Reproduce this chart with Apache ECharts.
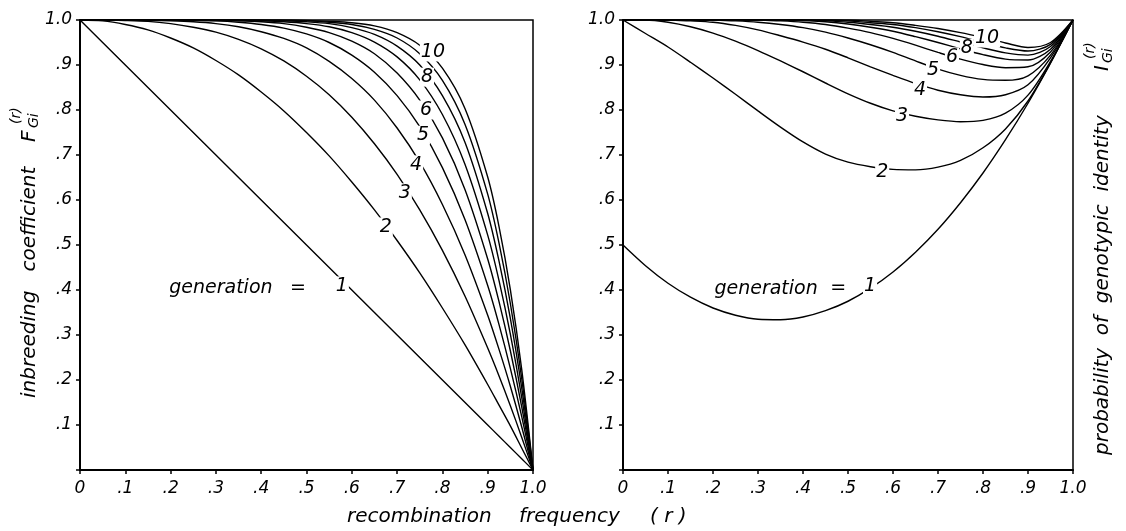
<!DOCTYPE html>
<html>
<head>
<meta charset="utf-8">
<script src="https://cdn.jsdelivr.net/npm/echarts@6/dist/echarts.min.js"></script>
<style>
  html, body { margin: 0; padding: 0; background: #fff; }
  #chart { width: 1126px; height: 531px; }
</style>
</head>
<body>
<div id="chart"></div>
<script>
// tick labels
const xTickLabels = ['0', '.1', '.2', '.3', '.4', '.5', '.6', '.7', '.8', '.9', '1.0'];
const yTickLabels = ['', '.1', '.2', '.3', '.4', '.5', '.6', '.7', '.8', '.9', '1.0'];

// left panel: inbreeding coefficient F
const rLeft = [0, .05, .1, .15, .2, .25, .3, .35, .4, .45, .5, .55, .6, .65, .7, .75, .8, .85, .9, .925, .95, .975, 1];
const F1  = [1, .95, .9, .85, .8, .75, .7, .65, .6, .55, .5, .45, .4, .35, .3, .25, .2, .15, .1, .075, .05, .025, 0];
const F2  = [1, .998, .99, .978, .96, .938, .91, .878, .84, .798, .75, .698, .64, .578, .51, .438, .36, .278, .19, .144, .098, .049, 0];
const F3  = [1, 1, .999, .997, .992, .984, .973, .957, .936, .909, .875, .834, .784, .725, .657, .578, .488, .386, .271, .209, .143, .073, 0];
const F4  = [1, 1, 1, .999, .998, .996, .992, .985, .974, .959, .938, .908, .87, .822, .76, .684, .59, .478, .344, .268, .186, .096, 0];
const F5  = [1, 1, 1, 1, 1, .999, .998, .995, .99, .982, .969, .95, .922, .884, .832, .763, .672, .556, .41, .323, .226, .119, 0];
const F6  = [1, 1, 1, 1, 1, 1, .999, .998, .996, .992, .984, .972, .953, .925, .882, .822, .738, .623, .469, .374, .265, .141, 0];
const F7  = [1, 1, 1, 1, 1, 1, 1, .999, .998, .996, .992, .985, .972, .951, .918, .867, .79, .679, .522, .421, .302, .162, 0];
const F8  = [1, 1, 1, 1, 1, 1, 1, 1, .999, .998, .996, .992, .983, .968, .942, .9, .832, .728, .57, .464, .337, .183, 0];
const F9  = [1, 1, 1, 1, 1, 1, 1, 1, 1, .999, .998, .995, .99, .979, .96, .925, .866, .768, .613, .504, .37, .204, 0];
const F10 = [1, 1, 1, 1, 1, 1, 1, 1, 1, 1, .999, .997, .994, .987, .972, .944, .893, .803, .651, .541, .401, .224, 0];

// right panel: probability of genotypic identity I
const rRight = [0, .05, .1, .15, .2, .25, .3, .35, .4, .45, .5, .55, .6, .65, .7, .75, .8, .85, .9, .95, 1];
const I1  = [.5, .454, .415, .384, .36, .344, .335, .334, .34, .354, .375, .404, .44, .484, .535, .594, .66, .734, .815, .904, 1];
const I2  = [1, .97, .94, .906, .871, .835, .798, .762, .729, .702, .684, .674, .668, .667, .673, .688, .716, .758, .82, .905, 1];
const I3  = [1, 1, .995, .985, .971, .953, .932, .909, .885, .86, .836, .815, .798, .786, .778, .774, .777, .793, .833, .908, 1];
const I4  = [1, 1, 1, .998, .995, .988, .978, .965, .951, .935, .916, .896, .877, .859, .844, .834, .829, .834, .856, .916, 1];
const I5  = [1, 1, 1, 1, 1, .998, .995, .99, .983, .973, .96, .945, .928, .909, .891, .877, .868, .866, .876, .922, 1];
const I6  = [1, 1, 1, 1, 1, 1, 1, .998, .995, .99, .982, .972, .959, .944, .928, .913, .901, .894, .896, .929, 1];
const I7  = [1, 1, 1, 1, 1, 1, 1, 1, .999, .996, .991, .984, .975, .963, .95, .936, .923, .913, .911, .935, 1];
const I8  = [1, 1, 1, 1, 1, 1, 1, 1, 1, .998, .995, .99, .984, .975, .964, .951, .938, .927, .922, .941, 1];
const I9  = [1, 1, 1, 1, 1, 1, 1, 1, 1, 1, .998, .994, .99, .983, .974, .963, .95, .938, .931, .946, 1];
const I10 = [1, 1, 1, 1, 1, 1, 1, 1, 1, 1, 1, .997, .994, .988, .981, .972, .961, .949, .939, .95, 1];

// curve labels: [text, r, value, white background]
const leftLabels = [
  ['10', .779, .929, true], ['8', .766, .873, true], ['6', .764, .80, true],
  ['5', .757, .744, true], ['4', .742, .678, true], ['3', .717, .616, true],
  ['2', .675, .54, true], ['1', .578, .409, true],
  ['generation', .311, .404, false], ['=', .481, .404, false]
];
const rightLabels = [
  ['10', .809, .96, true], ['8', .764, .937, true], ['6', .731, .918, true],
  ['5', .689, .889, true], ['4', .66, .844, true], ['3', .62, .787, true],
  ['2', .576, .662, true], ['1', .549, .409, true],
  ['generation', .318, .402, false], ['=', .478, .404, false]
];

const FONT = 'DejaVu Sans';
const chart = echarts.init(document.getElementById('chart'));

function curve(xs, ys, idx) {
  return {
    type: 'line', xAxisIndex: idx, yAxisIndex: idx,
    data: xs.map((x, i) => [x, ys[i]]),
    smooth: 0.3,
    symbol: 'none', silent: true,
    lineStyle: { color: '#000', width: 1.4 }
  };
}

function labels(items, idx) {
  return {
    type: 'scatter', xAxisIndex: idx, yAxisIndex: idx,
    symbolSize: 1, itemStyle: { color: 'rgba(0,0,0,0)' }, z: 10, silent: true,
    data: items.map(d => ({
      value: [d[1], d[2]], name: d[0],
      label: { backgroundColor: d[3] ? '#fff' : 'transparent' }
    })),
    label: {
      show: true, position: 'inside', formatter: p => p.name,
      color: '#000', opacity: 1, textBorderWidth: 0,
      fontSize: 19, fontStyle: 'italic', fontFamily: FONT,
      padding: [0, 1]
    }
  };
}

function xAxis(idx) {
  return {
    type: 'value', gridIndex: idx, min: 0, max: 1, interval: 0.1,
    axisLine: { lineStyle: { color: '#000', width: 2 } },
    axisTick: { length: 4, lineStyle: { color: '#000', width: 1.5 } },
    splitLine: { show: false },
    axisLabel: {
      color: '#000', fontSize: 17, fontStyle: 'italic', fontFamily: FONT, margin: 10,
      formatter: v => xTickLabels[Math.round(v * 10)]
    }
  };
}

function yAxis(idx) {
  return {
    type: 'value', gridIndex: idx, min: 0, max: 1, interval: 0.1,
    axisLine: { show: true, lineStyle: { color: '#000', width: 2 } },
    axisTick: { show: true, length: 4, lineStyle: { color: '#000', width: 1.5 } },
    splitLine: { show: false },
    axisLabel: {
      color: '#000', fontSize: 17, fontStyle: 'italic', fontFamily: FONT, margin: 8,
      formatter: v => yTickLabels[Math.round(v * 10)]
    }
  };
}

const txt = (text, x, y, size) => ({
  type: 'text', x: x, y: y,
  style: {
    text: text, fill: '#000', font: 'italic ' + size + 'px "' + FONT + '"',
    textAlign: 'left', textVerticalAlign: 'middle'
  }
});

const leftCurves = [F1, F2, F3, F4, F5, F6, F7, F8, F9, F10];
const rightCurves = [I1, I2, I3, I4, I5, I6, I7, I8, I9, I10];

chart.setOption({
  animation: false,
  backgroundColor: '#fff',
  grid: [
    { left: 80, right: 593, top: 20, bottom: 61, show: true, borderColor: '#000', borderWidth: 1.5 },
    { left: 623, right: 53, top: 20, bottom: 61, show: true, borderColor: '#000', borderWidth: 1.5 }
  ],
  xAxis: [xAxis(0), xAxis(1)],
  yAxis: [yAxis(0), yAxis(1)],
  series: [
    ...leftCurves.map(c => curve(rLeft, c, 0)),
    ...rightCurves.map(c => curve(rRight, c, 1)),
    labels(leftLabels, 0),
    labels(rightLabels, 1)
  ],
  graphic: [
    // x axis title
    txt('recombination', 347, 517, 20),
    txt('frequency', 519, 517, 20),
    txt('( r )', 650, 517, 20),
    // left y axis title
    {
      type: 'group', x: 30, y: 398, rotation: Math.PI / 2,
      children: [
        txt('inbreeding   coefficient', 0, 0, 20),
        txt('F', 256, 0, 20),
        txt('Gi', 270, 4, 14),
        txt('(r)', 274, -14, 14)
      ]
    },
    // right y axis title
    {
      type: 'group', x: 1103, y: 455, rotation: Math.PI / 2,
      children: [
        txt('probability  of  genotypic  identity', 0, 0, 20),
        txt('I', 384, 0, 20),
        txt('Gi', 392, 5, 14),
        txt('(r)', 396, -13, 14)
      ]
    }
  ]
});
</script>
</body>
</html>
